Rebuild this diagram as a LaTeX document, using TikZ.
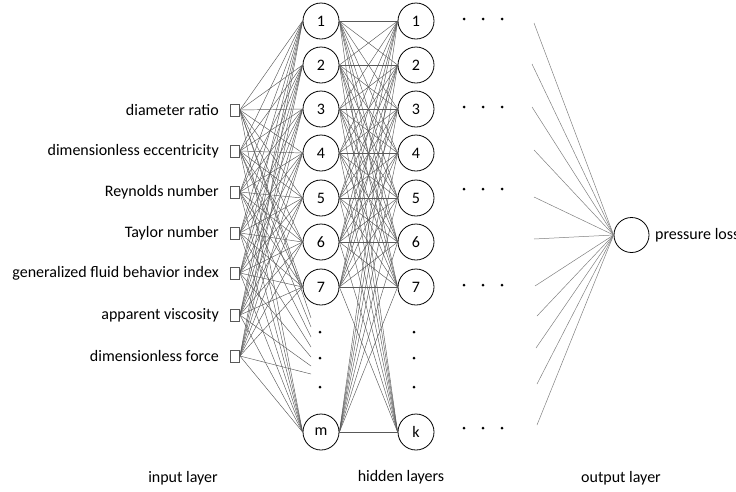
\documentclass[tikz,border=0pt]{standalone}
\usepackage{fontspec}
\setmainfont{Carlito}
\begin{document}
\begin{tikzpicture}[x=1pt,y=-1pt,
  font=\fontsize{16}{19}\selectfont,
  neuron/.style={circle,draw=black,line width=0.8pt,minimum size=36pt,inner sep=0pt},
  inbox/.style={draw=black!65,line width=0.8pt,minimum width=9pt,minimum height=12pt,inner sep=0pt},
  inlabel/.style={anchor=east,inner sep=0pt},
  link/.style={draw=black!65,line width=0.45pt},
  outlink/.style={draw=black!50,line width=0.5pt},
  smalldot/.style={circle,fill=black,inner sep=0pt,minimum size=3pt},
  layername/.style={inner sep=0pt}]
\useasboundingbox (0,0) rectangle (736,491);

% input layer
\foreach \i/\y/\t in {1/110/diameter ratio,
                      2/151/dimensionless eccentricity,
                      3/192/Reynolds number,
                      4/233/Taylor number,
                      5/273/generalized fluid behavior index,
                      6/315/apparent viscosity,
                      7/356/dimensionless force}{
  \node[inbox] (in\i) at (235,\y) {};
  \node[inlabel] (lab\i) at (219,\y) {\t};
}

% hidden layers
\foreach \i/\y/\t in {1/21/1,2/65/2,3/109/3,4/153/4,5/198/5,6/242/6,7/287/7,8/432/m}
  \node[neuron] (a\i) at (321,\y) {\t};
\foreach \i/\y/\t in {1/21/1,2/65/2,3/109/3,4/153/4,5/198/5,6/242/6,7/287/7,8/432/k}
  \node[neuron] (b\i) at (416,\y) {\t};

% output layer
\node[neuron,minimum size=35pt] (out) at (631.5,235) {};
\node[anchor=west,inner sep=0pt] (outlab) at (655,235) {pressure loss};

% input -> first hidden layer
\foreach \i in {1,...,7}
  \foreach \j in {1,...,8}
    \draw[link] (in\i.east) -- (a\j.west);

% input links running on towards the elided neurons
\foreach \i/\y in {1/318,2/327,3/337,4/347,5/357,6/366,7/374}{
  \coordinate (t\i) at (311,\y);
  \draw[link] (in\i.east) -- (t\i);
}

% first hidden -> second hidden layer
\foreach \i in {1,...,8}
  \foreach \j in {1,...,8}
    \draw[link] (a\i.east) -- (b\j.west);

% elided neurons in the hidden columns
\foreach \y [count=\n] in {332,358,387}{
  \node[smalldot] (da\n) at (320,\y) {};
  \node[smalldot] (db\n) at (414,\y) {};
}

% elided further hidden layers
\foreach \y [count=\r] in {19,107,189,285,428}
  \foreach \x [count=\c] in {464,483,502}
    \node[smalldot] (e\r\c) at (\x,\y) {};

% links into the output neuron
\foreach \x/\y [count=\k] in {534/23,532/64,532/107,534/150,534/197,534/239,535/286,537/316,536/348,537/384,537/425}{
  \coordinate (o\k) at (\x,\y);
  \draw[outlink] (o\k) -- (out.west);
}

% layer names
\node[layername] (nin) at (183,478) {input layer};
\node[layername] (nhid) at (401,477) {hidden layers};
\node[layername] (nout) at (621,478) {output layer};
\end{tikzpicture}
\end{document}
